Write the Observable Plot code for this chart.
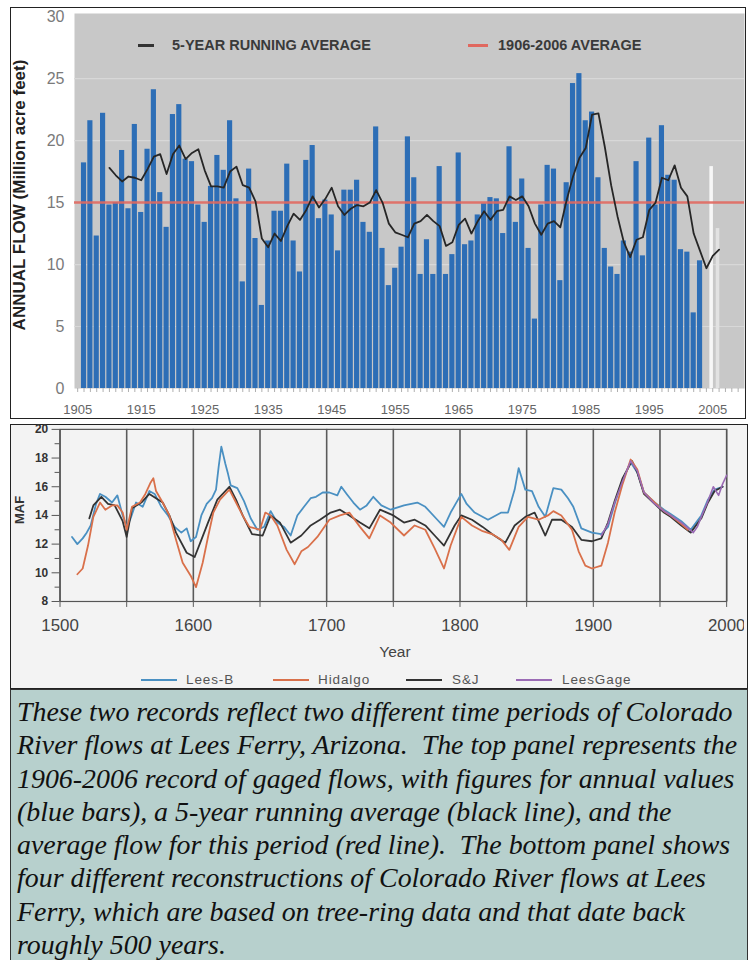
<!DOCTYPE html>
<html><head><meta charset="utf-8">
<script src="https://cdn.jsdelivr.net/npm/d3@7"></script>
<script src="https://cdn.jsdelivr.net/npm/@observablehq/plot@0.6"></script>
<style>
body{margin:0;background:#fff;width:750px;height:960px;position:relative;overflow:hidden;font-family:Arial,"Liberation Sans",sans-serif;}
.abs{position:absolute;}
.leg{position:absolute;font-weight:bold;font-size:14.5px;color:#3a3a3a;line-height:16px;white-space:nowrap;}
.bleg{position:absolute;font-size:13.5px;color:#555;line-height:14px;white-space:nowrap;letter-spacing:0.9px;}
.sw{position:absolute;height:2px;}
#caption{position:absolute;left:10px;top:689px;width:730px;height:270px;border:1px solid #333;background:#b7d0cd;padding:5px 0 0 6px;
 font-family:"Liberation Serif","Times New Roman",serif;font-style:italic;font-size:27.9px;line-height:33.3px;color:#111;white-space:pre;overflow:hidden;}
</style></head><body>

<div id="topPanel" class="abs" style="left:0;top:0;width:750px;height:420px;"></div>
<div class="abs" style="left:10px;top:7px;width:734px;height:410px;border:1px solid #222;pointer-events:none;"></div>
<div class="abs" style="left:20px;top:195px;transform:translate(-50%,-50%) rotate(-90deg);font-weight:bold;font-size:17px;color:#222;white-space:nowrap;">ANNUAL FLOW (Million acre feet)</div>
<div class="sw" style="left:138px;top:44px;width:16px;background:#333;height:2.5px;"></div>
<div class="leg" style="left:172px;top:37px;">5-YEAR RUNNING AVERAGE</div>
<div class="sw" style="left:468px;top:44px;width:20px;background:#e0685f;height:2.5px;"></div>
<div class="leg" style="left:498px;top:37px;">1906-2006 AVERAGE</div>

<div class="abs" style="left:10px;top:424px;width:736px;height:263px;border:1px solid #222;background:#f3f3f3;"></div>
<div id="botPanel" class="abs" style="left:0;top:414px;width:744px;height:275px;overflow:hidden;"></div>
<div class="abs" style="left:19px;top:510px;transform:translate(-50%,-50%) rotate(-90deg);font-weight:bold;font-size:13px;color:#333;">MAF</div>
<div class="abs" style="left:395px;top:652px;transform:translate(-50%,-50%);font-size:15.5px;color:#444;">Year</div>
<div class="sw" style="left:141px;top:679px;width:36px;background:#4a90c2;"></div>
<div class="bleg" style="left:186px;top:673px;">Lees-B</div>
<div class="sw" style="left:273px;top:679px;width:36px;background:#d9704a;"></div>
<div class="bleg" style="left:318px;top:673px;">Hidalgo</div>
<div class="sw" style="left:406px;top:679px;width:36px;background:#333;"></div>
<div class="bleg" style="left:452px;top:673px;">S&amp;J</div>
<div class="sw" style="left:516px;top:679px;width:36px;background:#9b6bb5;"></div>
<div class="bleg" style="left:562px;top:673px;">LeesGage</div>

<div id="caption">These two records reflect two different time periods of Colorado
River flows at Lees Ferry, Arizona.  The top panel represents the
1906-2006 record of gaged flows, with figures for annual values
(blue bars), a 5-year running average (black line), and the
average flow for this period (red line).  The bottom panel shows
four different reconstructions of Colorado River flows at Lees
Ferry, which are based on tree-ring data and that date back
roughly 500 years.</div>

<script>
// ---------- TOP PANEL DATA ----------
const gagedFirstYear = 1906;
const gagedFlows = [18.2,21.6,12.3,22.2,14.8,15.0,19.2,14.5,21.3,14.2,
  19.3,24.1,15.8,13.0,22.1,22.9,18.5,18.3,14.8,13.4,
  16.3,18.8,17.6,21.6,15.3,8.6,17.7,12.1,6.7,11.9,
  14.3,14.3,18.1,11.9,9.4,18.4,19.6,13.7,15.2,14.0,
  11.1,16.0,16.0,16.8,13.4,12.6,21.1,11.3,8.3,9.7,
  11.4,20.3,17.0,9.2,12.0,9.2,17.9,9.2,10.8,19.0,
  11.6,11.9,14.0,14.9,15.4,15.3,12.5,19.5,13.4,16.9,
  11.3,5.6,14.8,18.0,17.7,8.7,16.6,24.6,25.4,21.6,
  22.3,17.0,11.3,9.8,9.2,11.9,11.0,18.3,10.7,20.2,
  14.8,21.2,17.2,16.8,11.2,11.0,6.1,10.3];
const provisionalYears = [2005, 2006];
const provisionalFlows = [17.9, 12.9];
const runFirstYear = 1910;
const runningAvg = [17.8,17.2,16.7,17.1,17.0,16.8,17.7,18.7,18.9,17.3,
  18.9,19.6,18.5,19.0,19.3,17.6,16.3,16.3,16.2,17.5,
  17.9,16.4,16.2,15.1,12.1,11.4,12.5,11.9,13.1,14.1,
  13.6,14.4,15.5,14.6,15.3,16.2,14.7,14.0,14.5,14.8,
  14.7,15.0,16.0,15.0,13.3,12.6,12.4,12.2,13.3,13.5,
  14.0,13.5,13.1,11.5,11.8,13.2,13.7,12.5,13.5,14.3,
  13.6,14.3,14.4,15.5,15.2,15.5,14.7,13.3,12.4,13.3,
  13.5,13.0,15.2,17.1,18.6,19.4,22.1,22.2,19.5,16.4,
  13.9,11.8,10.6,12.0,12.2,14.4,15.0,17.0,16.8,18.0,
  16.2,15.5,12.5,11.1,9.7,10.7,11.2];
const longTermAverage = 15.0;
const topYTicks = [0,5,10,15,20,25,30];
const topXLabels = [1905,1915,1925,1935,1945,1955,1965,1975,1985,1995,2005];
const topGrid = [5,10,15,20,25];

// ---------- BOTTOM PANEL DATA ----------
const leesBYears = [1509,1513,1517,1520,1523,1527,1530,1534,1539,1543,1547,1550,1553,1557,1562,1567,1571,1576,1581,1586,1591,1595,1598,1602,1606,1610,1614,1617,1619,1621,1624,1626,1628,1633,1638,1643,1648,1653,1658,1663,1668,1673,1678,1683,1688,1692,1697,1702,1708,1711,1715,1720,1725,1730,1735,1741,1748,1758,1768,1774,1783,1788,1793,1801,1805,1811,1821,1831,1836,1841,1844,1849,1854,1859,1864,1870,1876,1881,1885,1891,1899,1906,1911,1916,1922,1928,1933,1938,1946,1953,1958,1966,1973,1981,1986,1991,1997];
const leesBValues = [12.5,12.0,12.4,12.8,13.3,14.8,15.5,15.3,14.9,15.4,14.0,13.2,13.8,14.9,14.6,15.7,15.5,14.6,14.0,13.2,12.8,13.1,12.2,12.5,14.0,14.8,15.2,15.8,17.4,18.8,17.6,16.9,16.1,15.9,15.0,13.8,13.0,13.2,14.3,13.5,13.2,12.6,14.0,14.6,15.2,15.3,15.6,15.6,15.4,16.0,15.5,14.9,14.4,14.7,15.3,14.7,14.4,14.7,14.9,14.6,13.7,13.2,14.2,15.5,14.8,14.2,13.7,14.2,14.2,15.8,17.3,15.8,15.7,14.6,13.9,15.9,15.8,15.2,14.6,13.1,12.8,12.7,13.2,14.8,16.5,17.7,17.0,15.6,14.9,14.4,14.1,13.6,13.0,14.0,15.1,15.8,16.0];
const hidalgoYears = [1513,1517,1521,1525,1530,1534,1539,1543,1547,1550,1554,1560,1564,1568,1570,1572,1577,1582,1587,1592,1598,1602,1607,1611,1615,1620,1627,1632,1637,1642,1650,1654,1658,1663,1670,1676,1681,1686,1693,1702,1710,1717,1725,1732,1740,1748,1758,1766,1774,1781,1788,1793,1801,1809,1817,1824,1831,1837,1844,1851,1859,1866,1870,1876,1884,1889,1894,1899,1906,1911,1916,1922,1928,1933,1938,1946,1953,1958,1966,1971];
const hidalgoValues = [9.9,10.3,11.9,13.9,14.9,14.4,14.7,14.7,14.2,13.0,14.6,14.9,15.5,16.3,16.6,15.7,14.9,14.0,12.3,10.7,9.8,9.0,10.7,12.5,14.2,15.1,15.8,14.9,14.0,13.2,13.0,14.2,14.0,13.3,11.6,10.6,11.5,11.8,12.5,13.7,14.0,14.2,13.2,12.4,14.0,13.5,12.6,13.3,13.0,11.7,10.3,11.9,13.9,13.3,12.9,12.7,12.3,11.6,13.2,13.9,13.7,14.0,14.3,14.0,13.0,11.5,10.5,10.3,10.5,12.1,14.2,16.2,17.9,17.2,15.6,14.9,14.3,14.0,13.4,13.0];
const sjYears = [1522,1525,1531,1536,1541,1547,1550,1554,1561,1567,1572,1577,1582,1587,1595,1601,1606,1611,1618,1627,1632,1637,1644,1652,1658,1665,1673,1681,1688,1695,1703,1710,1717,1725,1732,1740,1750,1758,1766,1774,1781,1788,1796,1801,1809,1817,1824,1834,1841,1849,1856,1864,1869,1876,1884,1891,1899,1906,1911,1916,1922,1929,1933,1938,1946,1953,1958,1966,1973,1981,1986,1991,1997];
const sjValues = [13.8,14.7,15.3,14.8,14.7,13.6,12.5,14.5,14.9,15.5,15.2,14.9,14.0,12.8,11.4,11.1,12.3,13.5,15.1,16.0,15.1,14.0,12.7,12.6,14.0,13.5,12.1,12.6,13.3,13.7,14.2,14.4,14.0,13.5,13.1,14.4,14.0,13.5,13.7,13.3,12.6,11.9,13.3,14.0,13.7,13.2,12.7,12.1,13.3,13.9,14.2,12.6,13.7,13.7,13.2,12.3,12.2,12.4,13.5,15.0,16.6,17.8,17.0,15.5,14.8,14.2,13.9,13.3,12.8,13.8,14.9,15.7,16.0];
const leesGageYears = [1906,1911,1916,1922,1928,1933,1938,1946,1953,1958,1966,1970,1975,1978,1981,1986,1990,1994,1997,2000];
const leesGageValues = [12.6,13.4,14.9,16.4,17.8,17.1,15.6,14.8,14.3,14.0,13.5,13.2,12.8,13.2,13.9,15.0,16.0,15.4,16.2,16.8];
const botYLabels = [8,10,12,14,16,18,20];
const botYMinor = [9,11,13,15,17,19];
const botXTicks = [1500,1550,1600,1650,1700,1750,1800,1850,1900,1950,2000];

// ---------- BUILD ----------
const gaged = gagedFlows.map((v, i) => ({year: gagedFirstYear + i, flow: v}));
const prov = provisionalYears.map((y, i) => ({year: y, flow: provisionalFlows[i]}));
const running = runningAvg.map((v, i) => ({year: runFirstYear + i, avg: v}));
const minorYears = d3.range(1905, 2010);

const topPlot = Plot.plot({
  width: 750, height: 420,
  marginLeft: 74, marginRight: 6, marginTop: 13, marginBottom: 32,
  x: {domain: [1904.5, 2010]},
  y: {domain: [0, 30.25]},
  style: {fontFamily: "Arial, 'Liberation Sans', sans-serif", background: "transparent"},
  marks: [
    Plot.frame({fill: "#c8c8c8", stroke: null}),
    Plot.ruleY(topGrid, {stroke: "#d8d8d8", strokeWidth: 1.2}),
    Plot.rectY(gaged, {x1: d => d.year - 0.5, x2: d => d.year + 0.5, y: "flow", fill: "#2d6eb6", insetLeft: 0.6, insetRight: 0.6}),
    Plot.rectY(prov, {x1: d => d.year - 0.5, x2: d => d.year + 0.5, y: "flow", fill: (d, i) => i === 0 ? "#f7f7f7" : "#e2e2e2", insetLeft: 0.3, insetRight: 2.5}),
    Plot.ruleY([longTermAverage], {stroke: "#e0685f", strokeWidth: 2.6, strokeOpacity: 0.9}),
    Plot.line(running, {x: "year", y: "avg", stroke: "#262626", strokeWidth: 1.8}),
    Plot.axisY({ticks: topYTicks, tickSize: 0, tickPadding: 10, fontSize: 16, fill: "#7a7a7a", label: null}),
    Plot.axisX({ticks: minorYears, tickSize: 4, stroke: "#b0b0b0", tickPadding: 12, fontSize: 13, fill: "#666",
      tickFormat: d => topXLabels.includes(d) ? String(d) : "", label: null})
  ]
});
document.getElementById("topPanel").append(topPlot);

const rows = (ys, vs) => ys.map((y, i) => ({year: y, v: vs[i]}));
const botPlot = Plot.plot({
  width: 750, height: 275,
  marginLeft: 60, marginRight: 18, marginTop: 15, marginBottom: 86.5,
  x: {domain: [1500, 2000]},
  y: {domain: [8, 20]},
  style: {fontFamily: "Arial, 'Liberation Sans', sans-serif", background: "transparent"},
  marks: [
    Plot.ruleX(botXTicks, {stroke: "#5a5a5a", strokeWidth: 1.6}),
    Plot.frame({stroke: "#555", strokeWidth: 1.2}),
    Plot.line(rows(leesBYears, leesBValues), {x: "year", y: "v", stroke: "#4a90c2", strokeWidth: 1.8}),
    Plot.line(rows(sjYears, sjValues), {x: "year", y: "v", stroke: "#333", strokeWidth: 1.8}),
    Plot.line(rows(hidalgoYears, hidalgoValues), {x: "year", y: "v", stroke: "#d9704a", strokeWidth: 1.8}),
    Plot.line(rows(leesGageYears, leesGageValues), {x: "year", y: "v", stroke: "#9b6bb5", strokeWidth: 1.6}),
    Plot.axisX({ticks: botXTicks, tickSize: 6, stroke: "#5a5a5a", tickPadding: 12, fontSize: 17, fill: "#444",
      tickFormat: d => d % 100 === 0 ? String(d) : "", label: null}),
    Plot.axisY({ticks: botYLabels, tickSize: 8, tickPadding: 4, fontSize: 12, fontWeight: "bold", fill: "#333", stroke: "#555", label: null}),
    Plot.axisY({ticks: botYMinor, tickSize: 5, stroke: "#555", tickFormat: () => "", label: null})
  ]
});
document.getElementById("botPanel").append(botPlot);
</script>
</body></html>
